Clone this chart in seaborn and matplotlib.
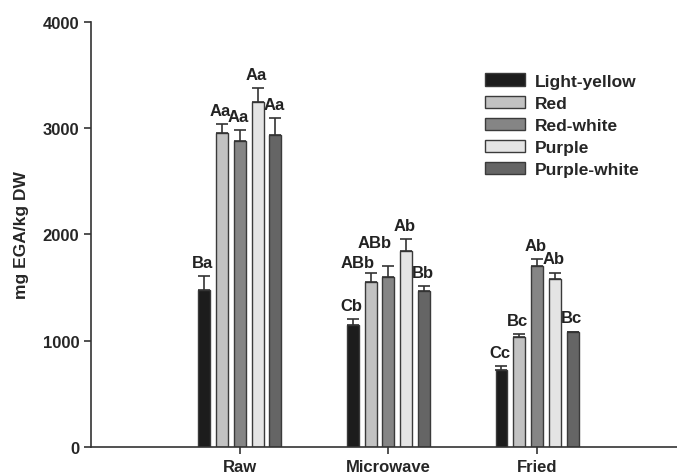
import numpy as np
import pandas as pd
import seaborn as sns
import matplotlib.pyplot as plt
from matplotlib.patches import Patch

# Values
methods = ['Raw', 'Microwave', 'Fried']
cultivars = ['Light-yellow', 'Red', 'Red-white', 'Purple', 'Purple-white']

means = {
    'Light-yellow': [1480, 1150, 720],
    'Red':          [2955, 1556, 1035],
    'Red-white':    [2880, 1603, 1706],
    'Purple':       [3246, 1847, 1581],
    'Purple-white': [2936, 1468, 1079],
}
errors = {
    'Light-yellow': [130, 50, 38],
    'Red':          [85, 80, 28],
    'Red-white':    [103, 100, 63],
    'Purple':       [132, 110, 59],
    'Purple-white': [160, 47, 6],
}
letters = {
    'Light-yellow': ['Ba', 'Cb', 'Cc'],
    'Red':          ['Aa', 'ABb', 'Bc'],
    'Red-white':    ['Aa', 'ABb', 'Ab'],
    'Purple':       ['Aa', 'Ab', 'Ab'],
    'Purple-white': ['Aa', 'Bb', 'Bc'],
}

colours = ['#1c1c1c', '#c2c2c2', '#858585', '#e4e4e4', '#656565']

# label nudges (points) so the two ABb labels stagger like the original
nudge = {('Red', 'Microwave'): (-8, -2), ('Red-white', 'Microwave'): (-9, 7)}

# long-format table for seaborn
rows = []
for c in cultivars:
    for m, v in zip(methods, means[c]):
        rows.append({'method': m, 'cultivar': c, 'value': v})
df = pd.DataFrame(rows)

sns.set_style("ticks")
plt.rcParams['font.family'] = ['Liberation Sans', 'DejaVu Sans']
plt.rcParams['font.weight'] = 'bold'

fig = plt.figure(figsize=(6.77, 4.77), dpi=100)
ax = fig.add_axes([0.1344, 0.0608, 0.8656, 0.891])

sns.barplot(data=df, x='method', y='value', hue='cultivar', order=methods,
            hue_order=cultivars, palette=colours, width=0.6, gap=0.33,
            edgecolor='#3a3a3a', linewidth=1, errorbar=None, legend=False, ax=ax)

# upper-only error bars and significance letters
bar_groups = list(ax.containers)
for i, cont in enumerate(bar_groups):
    c = cultivars[i]
    xs = [b.get_x() + b.get_width() / 2 for b in cont]
    hs = [b.get_height() for b in cont]
    err = errors[c]
    ax.errorbar(xs, hs, yerr=[np.zeros(len(err)), err], fmt='none',
                ecolor='#333333', elinewidth=1.2, capsize=4.3, capthick=1.2)
    for m, x, h, e, t in zip(methods, xs, hs, err, letters[c]):
        dx, dy = nudge.get((c, m), (0, 0))
        ax.annotate(t, xy=(x, h + e), xytext=(dx - 1, 10 + dy),
                    textcoords='offset points', ha='center', va='center',
                    fontsize=12, fontweight='bold', color='#222222')

ax.set_ylim(0, 4000)
ax.set_xlim(-1.0, 2.94)
ax.set_yticks([0, 1000, 2000, 3000, 4000])
ax.set_xlabel('')
ax.set_ylabel('mg EGA/kg DW', fontsize=12.5, fontweight='bold', labelpad=10)
ax.tick_params(axis='both', labelsize=12, length=5, width=1.2, color='#333333')
for lab in ax.get_xticklabels() + ax.get_yticklabels():
    lab.set_fontweight('bold')

sns.despine(ax=ax)
for s in ['left', 'bottom']:
    ax.spines[s].set_linewidth(1.2)
    ax.spines[s].set_color('#333333')

handles = [Patch(facecolor=col, edgecolor='#3a3a3a', linewidth=1) for col in colours]
ax.legend(handles, cultivars, loc='upper left', bbox_to_anchor=(0.672, 0.879),
          frameon=False, handlelength=2.3, handleheight=0.7,
          handletextpad=0.6, labelspacing=0.4, borderpad=0, borderaxespad=0,
          prop={'weight': 'bold', 'size': 12.5})

fig.savefig('out.png', dpi=100)
